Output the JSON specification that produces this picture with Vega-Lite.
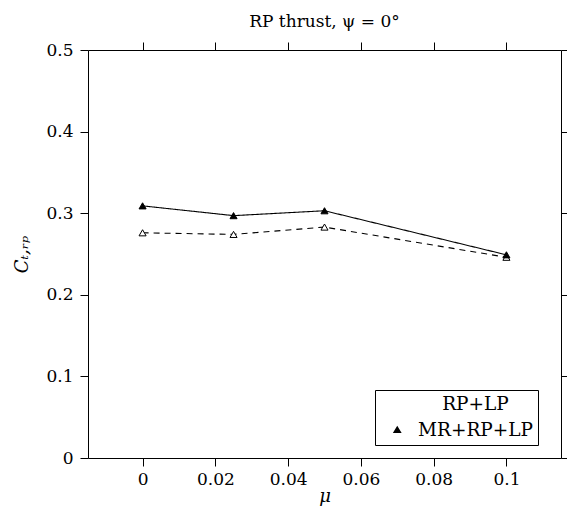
{
  "$schema": "https://vega.github.io/schema/vega-lite/v6.json",
  "autosize": {"type": "none"},
  "width": 473,
  "height": 408,
  "padding": {"left": 88, "top": 50, "right": 6, "bottom": 56},
  "background": "white",
  "title": {"text": "RP thrust, ψ = 0°", "font": "DejaVu Serif", "fontSize": 17, "fontWeight": "normal", "offset": 10, "color": "black"},
  "data": {"values": [
    {"series": "RP+LP", "mu": 0, "ct": 0.276},
    {"series": "RP+LP", "mu": 0.025, "ct": 0.274},
    {"series": "RP+LP", "mu": 0.05, "ct": 0.283},
    {"series": "RP+LP", "mu": 0.1, "ct": 0.246},
    {"series": "MR+RP+LP", "mu": 0, "ct": 0.309},
    {"series": "MR+RP+LP", "mu": 0.025, "ct": 0.297},
    {"series": "MR+RP+LP", "mu": 0.05, "ct": 0.303},
    {"series": "MR+RP+LP", "mu": 0.1, "ct": 0.249}
  ]},
  "config": {
    "view": {"stroke": "black", "strokeWidth": 1},
    "title": {"font": "DejaVu Serif", "fontWeight": "normal"},
    "axis": {"grid": false, "domain": false, "tickColor": "black", "tickSize": 8, "tickWidth": 1, "labelFont": "DejaVu Serif", "labelFontSize": 17, "labelColor": "black", "titleFont": "DejaVu Serif", "titleFontSize": 18, "titleFontWeight": "normal", "titleColor": "black"},
    "legend": {"strokeColor": "black", "fillColor": "white", "padding": 5, "cornerRadius": 0, "symbolOffset": 8, "symbolSize": 64, "symbolStrokeColor": "black", "symbolStrokeWidth": 1, "labelAlign": "center", "labelOffset": 69, "labelFont": "DejaVu Serif", "labelFontSize": 18.5, "labelColor": "black", "rowPadding": 7, "labelLimit": 300}
  },
  "encoding": {
    "x": {"field": "mu", "type": "quantitative", "scale": {"domain": [-0.015, 0.115], "zero": false, "nice": false}},
    "y": {"field": "ct", "type": "quantitative", "scale": {"domain": [0, 0.5], "nice": false}}
  },
  "layer": [
    {
      "mark": {"type": "line", "color": "black", "strokeWidth": 1.1},
      "encoding": {
        "x": {"field": "mu", "type": "quantitative", "axis": {"orient": "bottom", "values": [0, 0.02, 0.04, 0.06, 0.08, 0.1], "format": "~f", "title": "μ", "titleFontStyle": "italic", "labelPadding": 5, "titlePadding": 0}},
        "y": {"field": "ct", "type": "quantitative", "axis": {"orient": "left", "values": [0, 0.1, 0.2, 0.3, 0.4, 0.5], "format": "~f", "title": "Cₜ,ᵣₚ", "titleFontStyle": "italic", "labelPadding": 7, "titlePadding": 14}},
        "detail": {"field": "series", "type": "nominal"},
        "strokeDash": {"condition": {"test": "datum.series === 'RP+LP'", "value": [6, 5]}, "value": [1, 0]}
      }
    },
    {
      "mark": {"type": "point", "shape": "triangle-up", "size": 50, "stroke": "black", "strokeWidth": 1, "opacity": 1, "filled": true},
      "encoding": {
        "x": {"field": "mu", "type": "quantitative", "axis": {"orient": "top", "values": [0, 0.02, 0.04, 0.06, 0.08, 0.1], "labels": false, "title": null}},
        "y": {"field": "ct", "type": "quantitative", "axis": {"orient": "right", "values": [0, 0.1, 0.2, 0.3, 0.4, 0.5], "labels": false, "title": null}},
        "fill": {"condition": {"test": "datum.series === 'RP+LP'", "value": "white"}, "value": "black"}
      }
    },
    {
      "transform": [{"filter": {"field": "series", "equal": "none"}}],
      "mark": {"type": "point", "filled": false, "stroke": "black", "strokeWidth": 1, "size": 64, "opacity": 1},
      "encoding": {
        "x": {"field": "mu", "type": "quantitative", "axis": null},
        "y": {"field": "ct", "type": "quantitative", "axis": null},
        "shape": {"field": "series", "type": "nominal", "scale": {"domain": ["RP+LP", "MR+RP+LP"], "range": ["M-4.2,0H-3.1M3.1,0H4.2M-1.1,0.7L0,-1.1L1.1,0.7Z", "M-4.2,0H4.2M-1.1,0.7L0,-1.1L1.1,0.7Z"]},
          "legend": {"title": null, "orient": "none", "legendX": 287, "legendY": 340,
            "encode": {"symbols": {"update": {"stroke": {"value": "black"}, "strokeWidth": {"value": 1}, "opacity": {"value": 1}}}}}},
        "fill": {"field": "series", "type": "nominal", "scale": {"domain": ["RP+LP", "MR+RP+LP"], "range": ["white", "black"]},
          "legend": {"title": null, "orient": "none", "legendX": 287, "legendY": 340,
            "encode": {"symbols": {"update": {"stroke": {"value": "black"}, "strokeWidth": {"value": 1}, "opacity": {"value": 1}}}}}}
      }
    }
  ],
  "resolve": {"axis": {"x": "independent", "y": "independent"}}
}
